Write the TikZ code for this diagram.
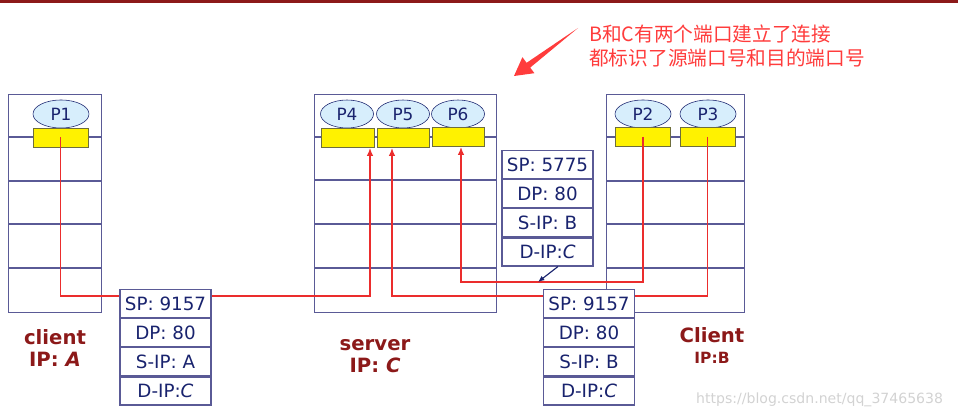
\documentclass[tikz,border=0pt]{standalone}
\usepackage{fontspec}
\setmainfont{DejaVu Sans}
\newfontfamily\cjk{Noto Sans CJK SC}
\usetikzlibrary{positioning,shapes.geometric,arrows.meta}
\definecolor{hostline}{RGB}{90,90,150}
\definecolor{navy}{RGB}{25,35,110}
\definecolor{portfill}{RGB}{215,238,252}
\definecolor{sockline}{RGB}{110,110,60}
\definecolor{wire}{RGB}{235,45,45}
\definecolor{labelred}{RGB}{140,25,25}
\definecolor{noteRed}{RGB}{255,60,60}
\tikzset{
  host/.style={draw=hostline, line width=0.8pt, anchor=north west, minimum height=5.45cm, inner sep=0},
  rowline/.style={draw=hostline, line width=0.8pt},
  port/.style={ellipse, draw=navy, fill=portfill, minimum width=1.4cm, minimum height=0.7cm, inner sep=0, text=navy, font=\fontsize{12}{14}\selectfont},
  sock/.style={draw=sockline, fill=yellow, minimum width=1.375cm, minimum height=0.475cm, inner sep=0},
  pkt/.style={draw=hostline, fill=white, line width=0.8pt, minimum width=2.275cm, minimum height=0.7cm, inner sep=0, text=navy, font=\fontsize{13}{15}\selectfont},
  conn/.style={draw=wire, line width=1.4pt},
  tip/.style={-{Latex[length=2mm,width=1.6mm]}},
  hostlabel/.style={text=labelred, font=\bfseries\fontsize{14}{16}\selectfont, align=center},
}
\begin{document}
\begin{tikzpicture}[x=0.025cm,y=-0.025cm]
\useasboundingbox (0,0) rectangle (958,419);
\fill[labelred] (0,0) rectangle (958,3);
%%% the three hosts
\node[host, minimum width=2.325cm] (hostA) at (8,94) {};
\node[host, minimum width=4.55cm] (server) at (314,94) {};
\node[host, minimum width=3.45cm] (hostB) at (606,94) {};
\foreach \h in {hostA,hostB,server}
  \foreach \yy in {137,224,268}
    \draw[rowline] (\h.west |- 0,\yy) -- (\h.east |- 0,\yy);
\draw[rowline] (hostA.west |- 0,181) -- (hostA.east |- 0,181);
\draw[rowline] (hostB.west |- 0,181) -- (hostB.east |- 0,181);
\draw[rowline, line width=1.6pt] (server.west |- 0,180) -- (server.east |- 0,180);
%%% ports and sockets
\node[port] (p1) at (61,114) {P1};
\node[sock] (s1) at (60.5,137.5) {};
\node[port, minimum width=1.325cm] (p4) at (347,114) {P4};
\node[port, minimum width=1.325cm] (p5) at (403,114) {P5};
\node[port, minimum width=1.325cm] (p6) at (458,114) {P6};
\node[sock, minimum width=1.325cm] (s4) at (347.5,138) {};
\node[sock, minimum width=1.3cm] (s5) at (403,138) {};
\node[sock, minimum width=1.3cm] (s6) at (458,137) {};
\node[port] (p2) at (643,114) {P2};
\node[port] (p3) at (708,114) {P3};
\node[sock] (s2) at (643,137) {};
\node[sock] (s3) at (707.5,137) {};
%%% segments
\node[pkt, anchor=north] (a1) at (165.5,289) {SP: 9157};
\node[pkt, below=0pt of a1] (a2) {DP: 80};
\node[pkt, below=0pt of a2] (a3) {S-IP: A};
\node[pkt, below=0pt of a3] (a4) {D-IP:\textit{C}};
\node[pkt, anchor=north] (c1) at (547.5,150) {SP: 5775};
\node[pkt, below=0pt of c1] (c2) {DP: 80};
\node[pkt, below=0pt of c2] (c3) {S-IP: B};
\node[pkt, below=0pt of c3] (c4) {D-IP:\textit{C}};
\node[pkt, anchor=north] (b1) at (589,289) {SP: 9157};
\node[pkt, below=0pt of b1] (b2) {DP: 80};
\node[pkt, below=0pt of b2] (b3) {S-IP: B};
\node[pkt, below=0pt of b3] (b4) {D-IP:\textit{C}};
%%% connections
\coordinate (hit) at (538,282);
\draw[conn] (s1.center) |- (a1.west |- 0,296);
\draw[conn, tip] (a1.east |- 0,296) -| (s4.south -| 370,0);
\draw[conn] (s3.center) |- (b1.east |- 0,296);
\draw[conn, tip] (b1.west |- 0,296) -| (s5.south -| 392,0);
\draw[conn, tip] (s2.center) |- (461,282) -- (s6.south -| 461,0);
\draw[navy, line width=0.8pt, -{Latex[length=1.6mm,width=1.3mm]}] (c4.south -| 558,0) -- (hit);
%%% host labels
\node[hostlabel] (labA) at (55,348) {client\\IP: \textit{A}};
\node[hostlabel] (labS) at (375,356) {server\\IP: \textit{C}};
\node[hostlabel] (labB1) at (712,335) {Client};
\node[text=labelred, font=\bfseries\fontsize{11}{13}\selectfont] (labB2) at (712,358) {IP:B};
%%% note
\node[anchor=west, text=noteRed, align=left, inner sep=0, font=\cjk\fontsize{14}{17.7}\selectfont] (note) at (589,46) {B和C有两个端口建立了连接\\都标识了源端口号和目的端口号};
\fill[noteRed] (578,28) -- (530.2,67.6) -- (534.4,73.2) -- (514,76) -- (522.4,57.2) -- (526.6,62.8) -- cycle;
\node[anchor=east, text=gray!35, font=\fontsize{10}{12}\selectfont] (wm) at (948,400) {https://blog.csdn.net/qq\_37465638};
\end{tikzpicture}
\end{document}
